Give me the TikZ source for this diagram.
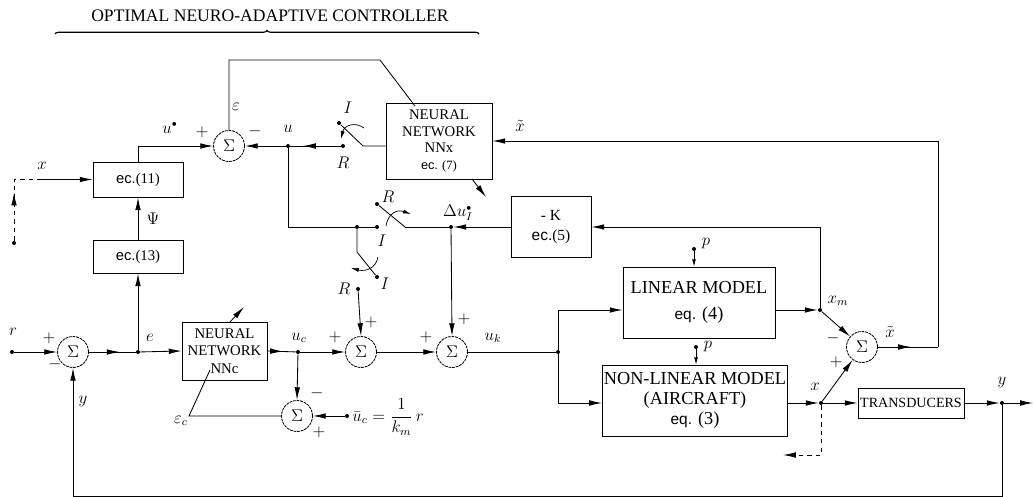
\documentclass[tikz,border=0pt]{standalone}
\usepackage{fontspec}
\setmainfont{Liberation Serif}
\newfontfamily\arialfont{Liberation Sans}
\usepackage{amsmath}
\usetikzlibrary{arrows.meta, positioning, calc,
                decorations.markings, decorations.pathreplacing}
\newcommand*{\pxu}{0.025cm}

\begin{document}
\begin{tikzpicture}[
    x=0.025cm, y=-0.025cm, line width=0.6pt,
    blk/.style={draw, rectangle, align=center, inner sep=1pt,
                font=\fontsize{10.5}{12}\selectfont},
    sumnode/.style={draw, circle, dash pattern=on 2pt off 0.6pt, inner sep=0pt,
                minimum size=31*\pxu, font=\fontsize{12}{14}\selectfont},
    jdot/.style={circle, fill, inner sep=0pt, minimum size=4*\pxu},
    lbl/.style={inner sep=0pt, font=\fontsize{12}{14}\selectfont},
    sgn/.style={inner sep=0pt, font=\fontsize{12}{14}\selectfont},
    arr/.style={-{Latex[length=3.2mm,width=1.4mm]}},
    tinyarr/.style={-{Latex[length=1.8mm,width=1mm]}},
    swarr/.style={-{Latex[length=2mm,width=1mm]}, line width=0.5pt},
    midarr/.style={postaction={decorate}, decoration={markings,
                mark=at position #1 with {\arrow{Latex[length=3.2mm,width=1.4mm]}}}}
]
\useasboundingbox (0,0) rectangle (1033,497);

% Title with its brace
\node[font=\fontsize{12.5}{14}\selectfont] (title) at (270,16)
    {OPTIMAL NEURO-ADAPTIVE CONTROLLER};
\coordinate (braceL) at (55,34);
\coordinate (braceR) at (479,34);
\draw[decorate, decoration={brace, amplitude=2.5pt}, line width=0.8pt]
    (braceL) -- (braceR);

% Summing junctions
\node[sumnode] (sumU) at (229,146) {$\Sigma$};
\node[sumnode] (sumR) at (73,352) {$\Sigma$};
\node[sumnode] (sumC) at (361,352) {$\Sigma$};
\node[sumnode] (sumK) at (452,352) {$\Sigma$};
\node[sumnode] (sumX) at (862,347) {$\Sigma$};
\node[sumnode] (sumE) at (297,416) {$\Sigma$};

% Blocks
\node[blk, minimum width=90*\pxu, minimum height=35*\pxu] (ecEleven)
    at (138,179.5) {{\arialfont ec.}(11)};
\node[blk, minimum width=90*\pxu, minimum height=33*\pxu] (ecThirteen)
    at (138,256.5) {{\arialfont ec.}(13)};
\node[blk, minimum width=106*\pxu, minimum height=76*\pxu,
      font=\fontsize{10.5}{11.8}\selectfont] (nnX) at (439,141)
    {NEURAL\\NETWORK\\NNx\\{\fontsize{9}{10}\selectfont{\arialfont ec.} (7)}};
\node[blk, minimum width=80*\pxu, minimum height=61*\pxu,
      font=\fontsize{11}{14}\selectfont] (gainK) at (551,227)
    {- K\\{\arialfont ec.}(5)};
\node[blk, minimum width=85*\pxu, minimum height=58*\pxu,
      font=\fontsize{10.5}{12.5}\selectfont] (nnC) at (224.5,351)
    {NEURAL\\NETWORK\\NNc};
\node[blk, minimum width=152*\pxu, minimum height=71*\pxu,
      font=\fontsize{13}{18}\selectfont] (linMod) at (699,302.5)
    {LINEAR MODEL\\{\arialfont\fontsize{11}{13}\selectfont eq.} (4)};
\node[blk, minimum width=182*\pxu, minimum height=71*\pxu,
      font=\fontsize{13}{14.5}\selectfont] (nlMod) at (695,400.5)
    {NON-LINEAR MODEL\\(AIRCRAFT)\\{\arialfont\fontsize{11}{13}\selectfont eq.} (3)};
\node[blk, minimum width=106*\pxu, minimum height=30*\pxu, inner sep=0pt,
      font=\fontsize{10}{12}\selectfont] (transd) at (911,403) {TRANSDUCERS};

% Junction and contact dots
\node[jdot] (rIn) at (12,352) {};
\node[jdot] (jE) at (138,352) {};
\node[jdot] (jUc) at (298,352) {};
\node[jdot] (jU) at (288,146) {};
\node[jdot] (swAR) at (343,146) {};
\node[jdot] (swAI) at (339,123) {};
\node[jdot] (jL) at (357,227) {};
\node[jdot] (swBI) at (377,227) {};
\node[jdot] (swBR) at (377,204) {};
\node[jdot] (jDu) at (451,227) {};
\node[jdot] (swCI) at (377,277) {};
\node[jdot] (swCR) at (358,289) {};
\node[jdot] (jUk) at (558,352) {};
\node[jdot] (jXm) at (820,310) {};
\node[jdot] (jX) at (821,403) {};
\node[jdot] (jY) at (1002,403) {};
\node[jdot] (pLin) at (694,249) {};
\node[jdot] (pNl) at (696,347) {};
\node[jdot] (ucBar) at (347,416) {};
\node[jdot] (xIn) at (14,243) {};

% Corners and free ends
\coordinate (swApiv) at (363,146);
\coordinate (swBpiv) at (405,227);
\coordinate (swCpiv) at (357,252);
\coordinate (uDown) at (288,227);
\coordinate (epsTop) at (380,60);
\coordinate (epsIn) at (415,106);
\coordinate (ukUp) at (558,310);
\coordinate (ukDown) at (558,403);
\coordinate (kCorner) at (820,227);
\coordinate (xtRight) at (938,347);
\coordinate (xtTop) at (938,141);
\coordinate (yOut) at (1033,403);
\coordinate (fbRight) at (1002,496);
\coordinate (fbLeft) at (73,496);
\coordinate (xDown) at (821,455);
\coordinate (xLeft) at (783,455);
\coordinate (xCorner) at (14,179.5);
\coordinate (xDash) at (40,179.5);
\coordinate (epscIn) at (210,370);
\coordinate (epscLow) at (189,416);
\coordinate (nncAdpA) at (230,322);
\coordinate (nncAdpB) at (244,307);
\coordinate (nnxAdpA) at (472,179);
\coordinate (nnxAdpB) at (486,197);

% Reference input, error and ec. blocks
\draw[arr] (rIn) -- (sumR.west);
\draw[midarr=0.66] (sumR.east) -- (jE);
\draw[arr] (jE) -- (nnC.west);
\draw[arr] (jE) -- (ecThirteen.south);
\draw[arr] (ecThirteen.north) -- (ecEleven.south);
\draw[arr] (ecEleven.north) |- (sumU.west);
\draw[dashed, midarr=0.55] (xIn) -- (xCorner) -- (xDash);
\draw[arr] (xDash) -- (ecEleven.west);

% NNx training loop and switch A
\draw (sumU.north) -- (sumU.north |- epsTop) -- (epsTop) -- (epsIn);
\draw[arr] (jU) -- (sumU.east);
\draw[midarr=0.75] (swAR) -- (jU);
\draw (nnX.west |- swApiv) -- (swApiv) -- ([shift={(4,4)}]swAI);
\draw[swarr] (364,128) .. controls (354,121) and (344,126) .. (341,139);

% Switch B, switch C and the gain loop
\draw (jU) -- (uDown) -- (jL) -- (swBI);
\draw (swBpiv) -- ([shift={(4,4)}]swBR);
\draw[swarr] (386,226) .. controls (388,214) and (396,209) .. (411,214);
\draw (swBpiv) -- (jDu);
\draw[arr] (gainK.west) -- (jDu);
\draw (jL) -- (swCpiv) -- ([shift={(-3,-3)}]swCI);
\draw[swarr] (378,257) .. controls (376,268) and (366,272) .. (351,268);
\draw[arr] (swCR) -- (sumC.north);
\draw[arr] (jDu) -- (sumK.north);
\draw[arr] (nnxAdpA) -- (nnxAdpB);

% Controller output to the models
\draw[midarr=0.55] (nnC.east) -- (jUc);
\draw[arr] (jUc) -- (sumC.west);
\draw[arr] (jUc) -- (sumE.north);
\draw[arr] (sumC.east) -- (sumK.west);
\draw (sumK.east) -- (jUk);
\draw[arr] (jUk) -- (ukUp) -- (linMod.west |- ukUp);
\draw[arr] (jUk) -- (ukDown) -- (nlMod.west |- ukDown);
\draw[tinyarr] (pLin) -- (pLin |- linMod.north);
\draw[tinyarr] (pNl) -- (pNl |- nlMod.north);

% Model outputs, state error and measurement
\draw[arr] (linMod.east |- jXm) -- (jXm);
\draw[arr] (jXm) -- (sumX);
\draw[arr] (jXm) -- (kCorner) -- (gainK.east |- kCorner);
\draw[arr] (nlMod.east |- jX) -- (jX);
\draw[arr] (jX) -- (sumX);
\draw[arr] (jX) -- (transd.west |- jX);
\draw[arr, dashed] (jX) -- (xDown) -- (xLeft);
\draw[midarr=0.55] (sumX.east) -- (xtRight);
\draw[arr] (xtRight) -- (xtTop) -- (nnX.east |- xtTop);
\draw[arr] (transd.east |- jY) -- (jY);
\draw[arr] (jY) -- (yOut);
\draw[arr] (jY) -- (fbRight) -- (fbLeft) -- (sumR.south);

% NNc training error
\draw (epscIn) -- (epscLow) -- (sumE.west);
\draw[arr] (ucBar) -- (sumE.east);
\draw[arr] (nncAdpA) -- (nncAdpB);

% Labels and signs
\node[lbl] (lblEps) at (236,107) {$\varepsilon$};
\node[lbl] (lblUstar) at (170,128) {$u^{\scriptscriptstyle\bullet}$};
\node[sgn] (sgnUp) at (202,132) {$+$};
\node[sgn] (sgnUm) at (255,131) {$-$};
\node[lbl] (lblU) at (288,129) {$u$};
\node[lbl] (lblAI) at (348,108) {$I$};
\node[lbl] (lblAR) at (343,163) {$R$};
\node[lbl] (lblBR) at (388,197) {$R$};
\node[lbl] (lblBI) at (382,241) {$I$};
\node[lbl] (lblCI) at (385,284) {$I$};
\node[lbl] (lblCR) at (344,289) {$R$};
\node[lbl] (lblDu) at (458,213) {$\Delta u_I^{\scriptscriptstyle\bullet}$};
\node[lbl] (lblXtA) at (520,126) {$\tilde{x}$};
\node[lbl] (lblX) at (42,166) {$x$};
\node[lbl] (lblPsi) at (153,219) {$\Psi$};
\node[lbl] (lblR) at (13,332) {$r$};
\node[sgn] (sgnRp) at (49,338) {$+$};
\node[sgn] (sgnRm) at (55,364) {$-$};
\node[lbl] (lblYfb) at (83,402) {$y$};
\node[lbl] (lblE) at (150,338) {$e$};
\node[lbl] (lblUc) at (299,338) {$u_c$};
\node[sgn] (sgnCl) at (335,337) {$+$};
\node[sgn] (sgnCt) at (371,322) {$+$};
\node[sgn] (sgnKl) at (426,337) {$+$};
\node[sgn] (sgnKt) at (464,319) {$+$};
\node[lbl] (lblUk) at (493,338) {$u_k$};
\node[sgn] (sgnEt) at (317,393) {$-$};
\node[sgn] (sgnEb) at (319,432) {$+$};
\node[lbl] (lblEpsc) at (181,421) {$\varepsilon_c$};
\node[lbl, anchor=west] (lblUcbar) at (352,417) {$\bar{u}_c=\dfrac{1}{k_m}\,r$};
\node[lbl] (lblPa) at (706,244) {$p$};
\node[lbl] (lblPb) at (708,347) {$p$};
\node[lbl] (lblXm) at (838,301) {$x_m$};
\node[sgn] (sgnXm) at (833,338) {$-$};
\node[sgn] (sgnXp) at (836,362) {$+$};
\node[lbl] (lblXtB) at (890,332) {$\tilde{x}$};
\node[lbl] (lblXb) at (815,387) {$x$};
\node[lbl] (lblY) at (1002,383) {$y$};

\end{tikzpicture}
\end{document}
